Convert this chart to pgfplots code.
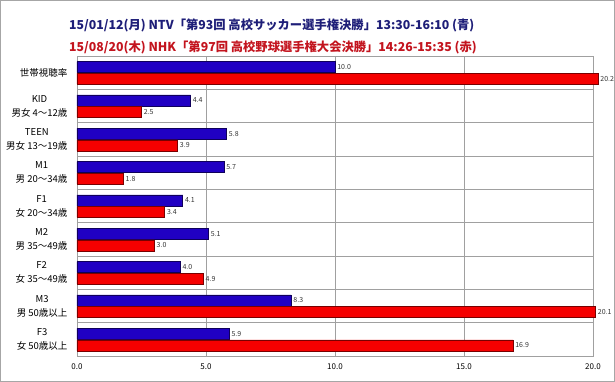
\documentclass[border=0pt]{standalone}
\usepackage{pgfplots}
\pgfplotsset{compat=1.18}
\usepackage{fontspec}
\setmainfont{Noto Sans CJK JP}
\definecolor{tblue}{RGB}{30,30,120}
\definecolor{tred}{RGB}{195,20,30}
\definecolor{bblue}{RGB}{32,0,195}
\definecolor{bbluedk}{RGB}{15,0,90}
\definecolor{bred}{RGB}{245,0,0}
\definecolor{breddk}{RGB}{120,0,0}
\definecolor{gridc}{RGB}{160,160,160}
\begin{document}
\begin{tikzpicture}[x=1pt,y=1pt]
\useasboundingbox (0,0) rectangle (615,382);
\draw[gray!70] (0.5,0.5) rectangle (614.5,381.5);
\node[anchor=base west,text=tblue,font=\fontsize{12.3}{13}\selectfont\bfseries,inner sep=0pt] at (69,352) {15/01/12(月) NTV「第93回 高校サッカー選手権決勝」13:30-16:10 (青)};
\node[anchor=base west,text=tred,font=\fontsize{12.3}{13}\selectfont\bfseries,inner sep=0pt] at (69,330) {15/08/20(木) NHK「第97回 高校野球選手権大会決勝」14:26-15:35 (赤)};
\begin{axis}[
  at={(77pt,26pt)}, anchor=south west,
  scale only axis, width=516pt, height=300pt,
  xbar, bar width=11pt,
  xmin=0, xmax=20, ymin=-0.5, ymax=8.5,
  clip=false,
  axis line style={gridc},
  xtick={0,5,10,15,20},
  xticklabel style={font=\fontsize{8}{9}\selectfont, yshift=-4pt, /pgf/number format/.cd, fixed, zerofill, precision=1, assume math mode=true},
  xmajorgrids, grid style={gridc},
  ytick={0,1,2,3,4,5,6,7,8},
  yticklabels={{F3\\女 50歳以上},{M3\\男 50歳以上},{F2\\女 35〜49歳},{M2\\男 35〜49歳},{F1\\女 20〜34歳},{M1\\男 20〜34歳},{TEEN\\男女 13〜19歳},{KID\\男女 4〜12歳},{世帯視聴率}},
  yticklabel style={font=\fontsize{9.5}{14}\selectfont, align=center, xshift=-6pt},
  minor ytick={0.5,1.5,2.5,3.5,4.5,5.5,6.5,7.5},
  yminorgrids, minor grid style={gridc},
  major tick length=0pt, minor tick length=0pt,
  nodes near coords={\pgfmathprintnumber[fixed,zerofill,precision=1,assume math mode=true]{\pgfplotspointmeta}},
  every node near coord/.append style={font=\fontsize{7}{8}\selectfont, text=black!80, inner sep=2pt},
]
\addplot[draw=bbluedk, fill=bblue, line width=0.6pt, bar shift=5.5pt] coordinates {
(10.0,8) (4.4,7) (5.8,6) (5.7,5) (4.1,4) (5.1,3) (4.0,2) (8.3,1) (5.9,0)};
\addplot[draw=breddk, fill=bred, line width=0.6pt, bar shift=-6pt] coordinates {
(20.2,8) (2.5,7) (3.9,6) (1.8,5) (3.4,4) (3.0,3) (4.9,2) (20.1,1) (16.9,0)};
\end{axis}
\end{tikzpicture}
\end{document}
